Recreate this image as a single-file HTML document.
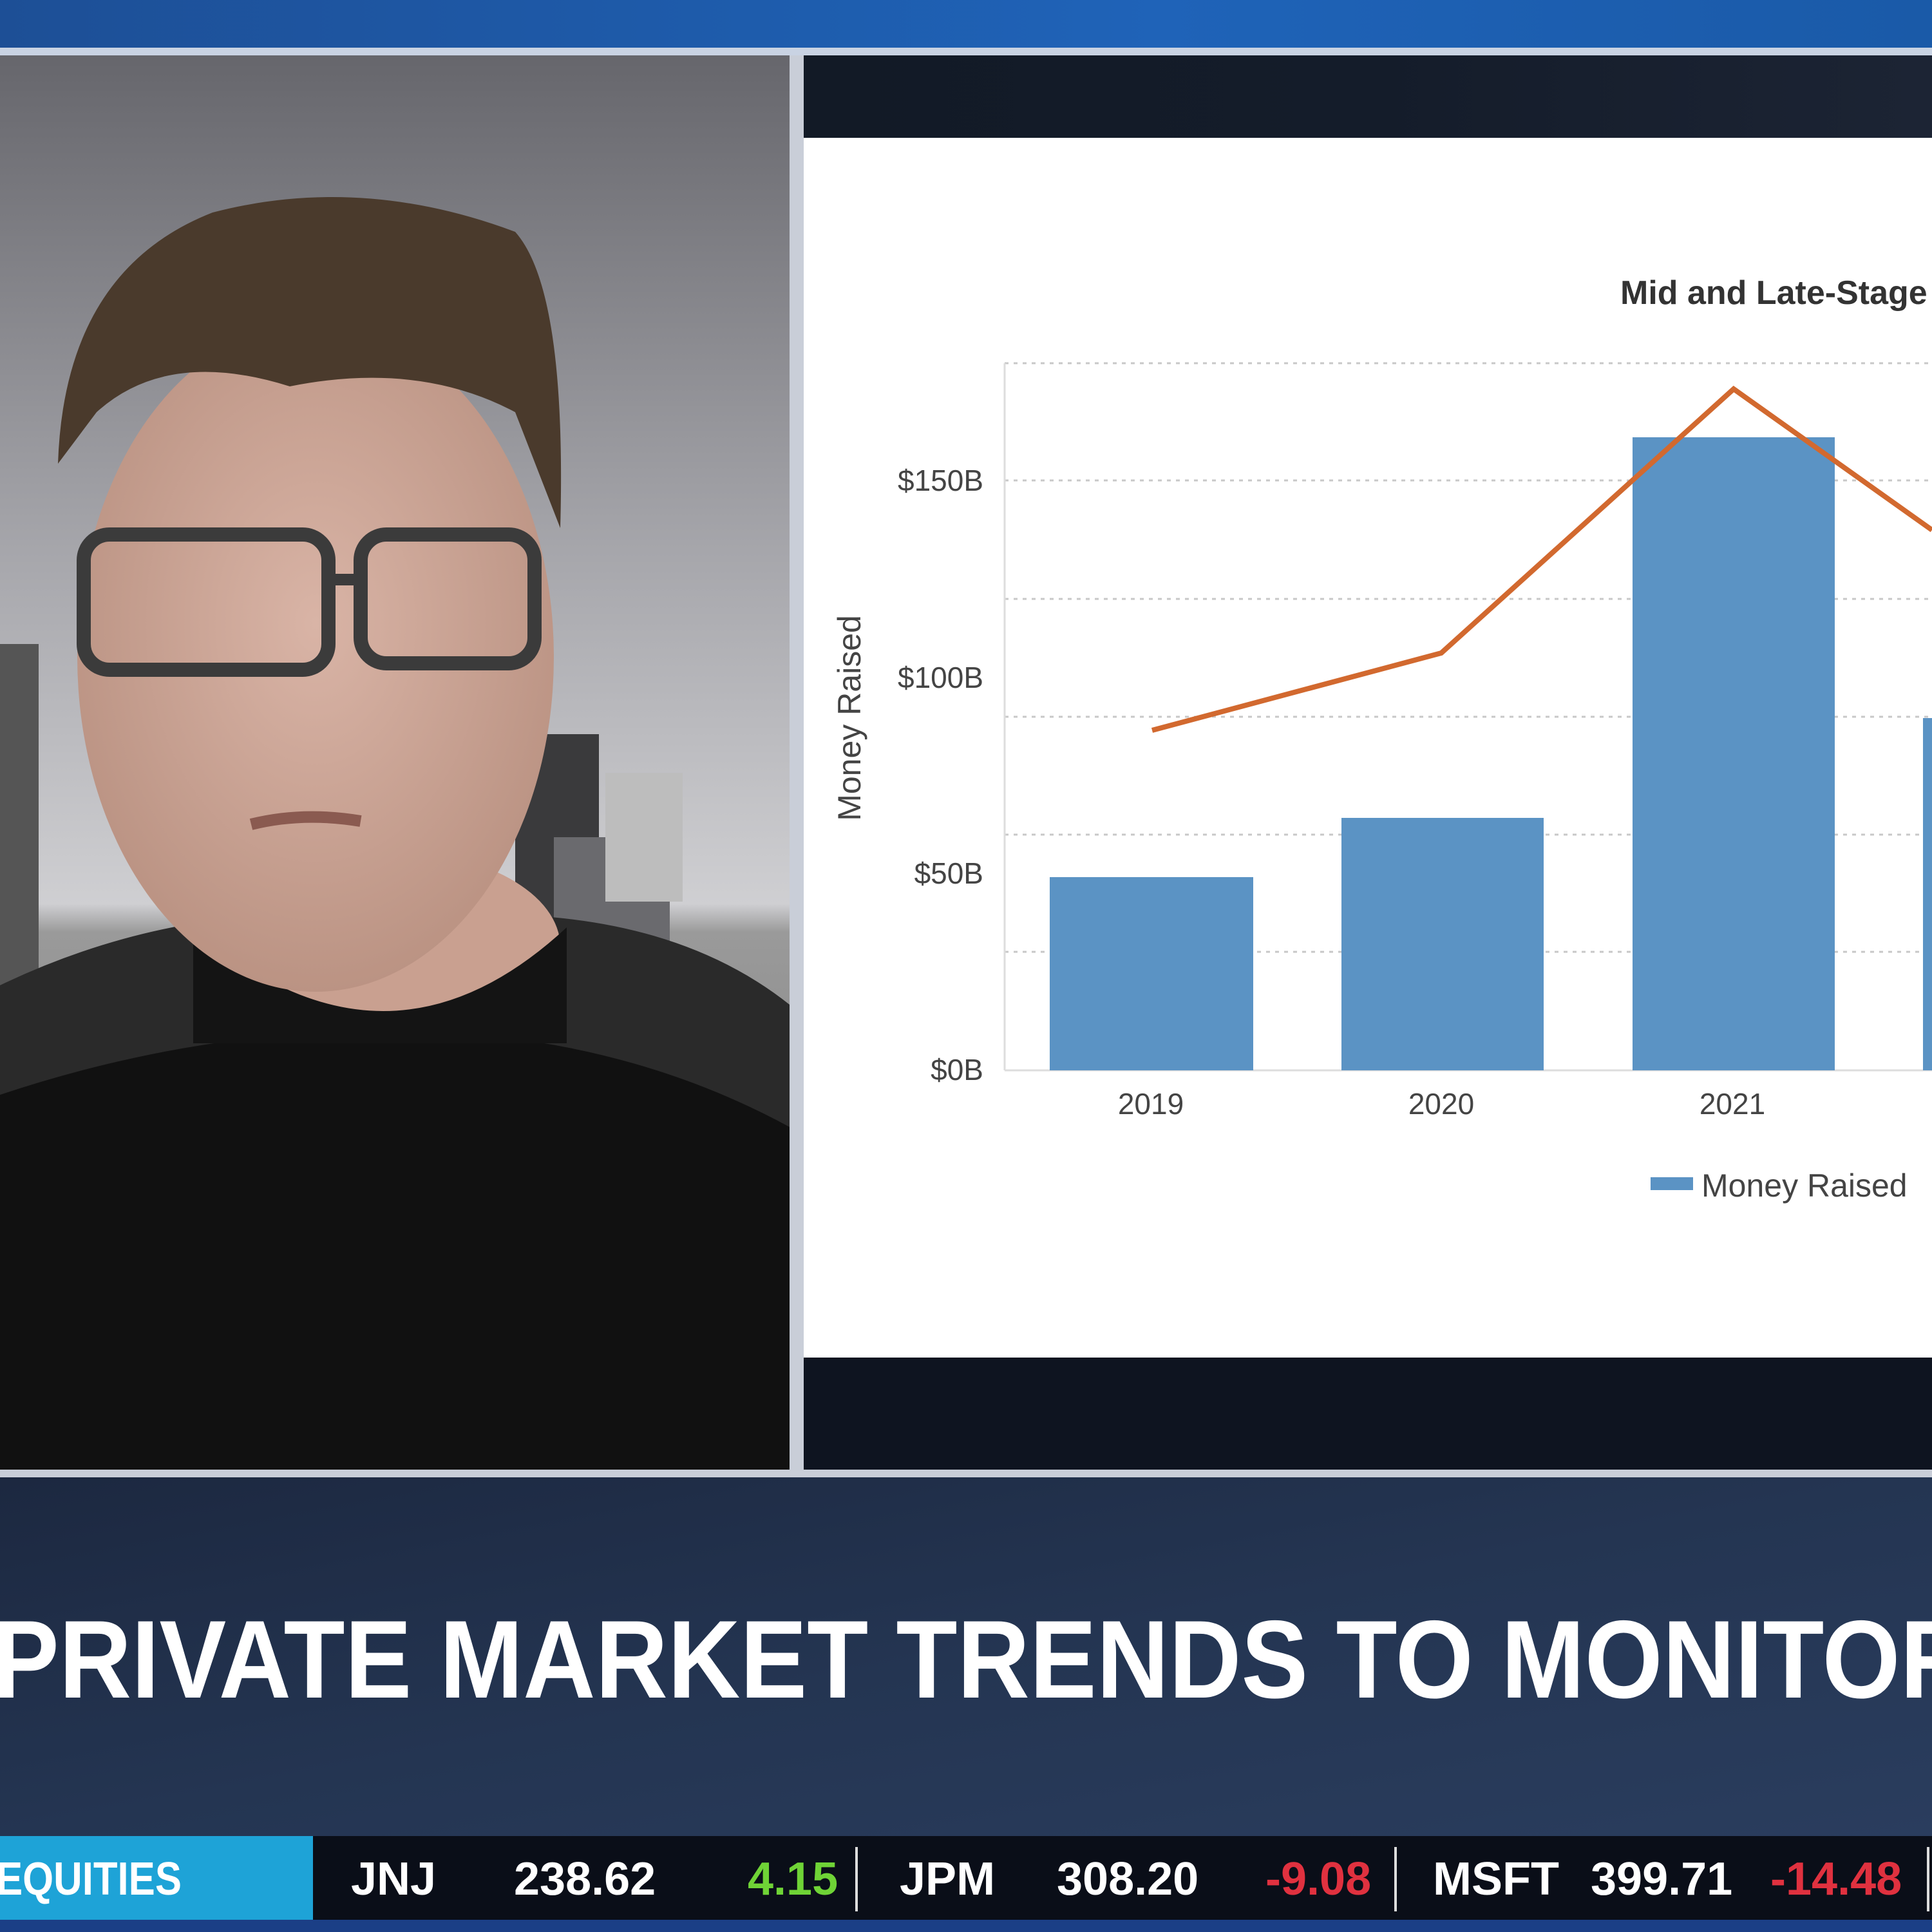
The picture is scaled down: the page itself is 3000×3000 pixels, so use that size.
<!DOCTYPE html>
<html><head><meta charset="utf-8"><style>
html,body{margin:0;padding:0;width:3000px;height:3000px;overflow:hidden;background:#0b0f1a}
svg{display:block}
text{font-family:"Liberation Sans",sans-serif}
</style></head><body>
<svg width="3000" height="3000" viewBox="0 0 3000 3000" xmlns="http://www.w3.org/2000/svg">
<defs>
<linearGradient id="topbar" x1="0" y1="0" x2="1" y2="0"><stop offset="0" stop-color="#1d4f96"/><stop offset="0.6" stop-color="#1f63b8"/><stop offset="1" stop-color="#1a5aa8"/></linearGradient>
<linearGradient id="sky" x1="0" y1="0" x2="0" y2="1"><stop offset="0" stop-color="#66666c"/><stop offset="0.35" stop-color="#a6a6ab"/><stop offset="0.6" stop-color="#cfcfd2"/><stop offset="0.62" stop-color="#9a9a9a"/><stop offset="1" stop-color="#6e6e6e"/></linearGradient>
<linearGradient id="lower" x1="0" y1="0" x2="1" y2="1"><stop offset="0" stop-color="#1c2840"/><stop offset="0.5" stop-color="#243552"/><stop offset="1" stop-color="#2a3d5e"/></linearGradient>
<linearGradient id="darkband" x1="0" y1="0" x2="1" y2="0"><stop offset="0" stop-color="#121a26"/><stop offset="0.5" stop-color="#141c2a"/><stop offset="1" stop-color="#1c2434"/></linearGradient>
<radialGradient id="face" cx="0.5" cy="0.45" r="0.6"><stop offset="0" stop-color="#d9b4a6"/><stop offset="1" stop-color="#b89080"/></radialGradient>
</defs>
<rect x="0" y="0" width="3000" height="74" fill="url(#topbar)"/>
<rect x="0" y="74" width="3000" height="12" fill="#c9d3e3"/>
<rect x="0" y="86" width="1226" height="2196" fill="url(#sky)"/>
<rect x="0" y="1000" width="60" height="700" fill="#555"/>
<rect x="800" y="1140" width="130" height="480" fill="#3a3a3c"/>
<rect x="860" y="1300" width="180" height="300" fill="#6a6a6e"/>
<rect x="940" y="1200" width="120" height="200" fill="#bdbdbd"/>
<path d="M0 1530 Q250 1410 520 1420 L760 1420 Q1050 1420 1226 1560 L1226 2282 L0 2282 Z" fill="#2a2a2a"/>
<path d="M0 1700 Q300 1600 600 1600 Q950 1600 1226 1750 L1226 2282 L0 2282 Z" fill="#111"/>
<ellipse cx="600" cy="1470" rx="270" ry="150" fill="#c9a090"/>
<path d="M300 1440 Q600 1700 880 1440 L880 1620 L300 1620 Z" fill="#141414"/>
<ellipse cx="490" cy="1020" rx="370" ry="520" fill="url(#face)"/>
<path d="M90 720 Q100 420 330 330 Q560 270 800 360 Q880 450 870 820 L800 640 Q650 560 450 600 Q260 540 150 640 Z" fill="#4a3a2c"/>
<rect x="130" y="830" width="380" height="210" rx="40" fill="none" stroke="#3b3b3b" stroke-width="22"/>
<rect x="560" y="830" width="270" height="200" rx="40" fill="none" stroke="#3b3b3b" stroke-width="22"/>
<line x1="510" y1="900" x2="560" y2="900" stroke="#3b3b3b" stroke-width="18"/>
<path d="M390 1280 Q470 1260 560 1275" stroke="#8a5a50" stroke-width="18" fill="none"/>
<rect x="1226" y="86" width="22" height="2200" fill="#c9ced8"/>
<rect x="1248" y="86" width="1752" height="128" fill="url(#darkband)"/>
<rect x="1248" y="214" width="1752" height="1894" fill="#ffffff"/>
<rect x="1248" y="2108" width="1752" height="174" fill="#0e1420"/>
<rect x="0" y="2282" width="3000" height="12" fill="#c9ced8"/>
<text x="2516" y="472" font-size="52" fill="#333" font-weight="500" style="font-weight:600">Mid and Late-Stage</text>
<g stroke="#c8c8c8" stroke-width="3" stroke-dasharray="6 8">
<line x1="1560" y1="564" x2="3000" y2="564"/>
<line x1="1560" y1="746" x2="3000" y2="746"/>
<line x1="1560" y1="930" x2="3000" y2="930"/>
<line x1="1560" y1="1113" x2="3000" y2="1113"/>
<line x1="1560" y1="1296" x2="3000" y2="1296"/>
<line x1="1560" y1="1478" x2="3000" y2="1478"/>
</g>
<line x1="1560" y1="564" x2="1560" y2="1662" stroke="#ddd" stroke-width="3"/>
<line x1="1560" y1="1662" x2="3000" y2="1662" stroke="#ddd" stroke-width="3"/>
<g font-size="46" fill="#444" text-anchor="end">
<text x="1527" y="762">$150B</text>
<text x="1527" y="1068">$100B</text>
<text x="1527" y="1372">$50B</text>
<text x="1527" y="1677">$0B</text>
</g>
<text transform="translate(1336,1115) rotate(-90)" font-size="50" fill="#444" text-anchor="middle">Money Raised</text>
<g fill="#5b93c4">
<rect x="1630" y="1362" width="316" height="300"/>
<rect x="2083" y="1270" width="314" height="392"/>
<rect x="2535" y="679" width="314" height="983"/>
<rect x="2986" y="1115" width="20" height="547"/>
</g>
<polyline points="1789,1134 2238,1014 2692,604 3000,823" fill="none" stroke="#d2692f" stroke-width="8"/>
<g font-size="46" fill="#444" text-anchor="middle">
<text x="1787" y="1730">2019</text>
<text x="2238" y="1730">2020</text>
<text x="2690" y="1730">2021</text>
</g>
<rect x="2563" y="1828" width="66" height="20" fill="#5b93c4"/>
<text x="2642" y="1858" font-size="50" fill="#444">Money Raised</text>
<rect x="0" y="2294" width="3000" height="557" fill="url(#lower)"/>
<text x="-12" y="2636" font-size="172" font-weight="bold" fill="#fff" textLength="3075" lengthAdjust="spacingAndGlyphs">PRIVATE MARKET TRENDS TO MONITOR</text>
<rect x="0" y="2851" width="3000" height="130" fill="#0a0e18"/>
<rect x="0" y="2851" width="486" height="130" fill="#1ea3d7"/>
<rect x="0" y="2981" width="3000" height="19" fill="#1b3f86"/>
<g font-size="72" font-weight="bold" fill="#fff">
<text x="-6" y="2942" textLength="288" lengthAdjust="spacingAndGlyphs">EQUITIES</text>
<text x="545" y="2942">JNJ</text>
<text x="798" y="2942">238.62</text>
<text x="1161" y="2942" fill="#6fd336">4.15</text>
<text x="1397" y="2942">JPM</text>
<text x="1641" y="2942">308.20</text>
<text x="1965" y="2942" fill="#e0313f">-9.08</text>
<text x="2225" y="2942">MSFT</text>
<text x="2470" y="2942">399.71</text>
<text x="2749" y="2942" fill="#e0313f">-14.48</text>
</g>
<g fill="#ddd"><rect x="1328" y="2868" width="4" height="100"/><rect x="2165" y="2868" width="4" height="100"/><rect x="2992" y="2868" width="4" height="100"/></g>
</svg>
</body></html>
